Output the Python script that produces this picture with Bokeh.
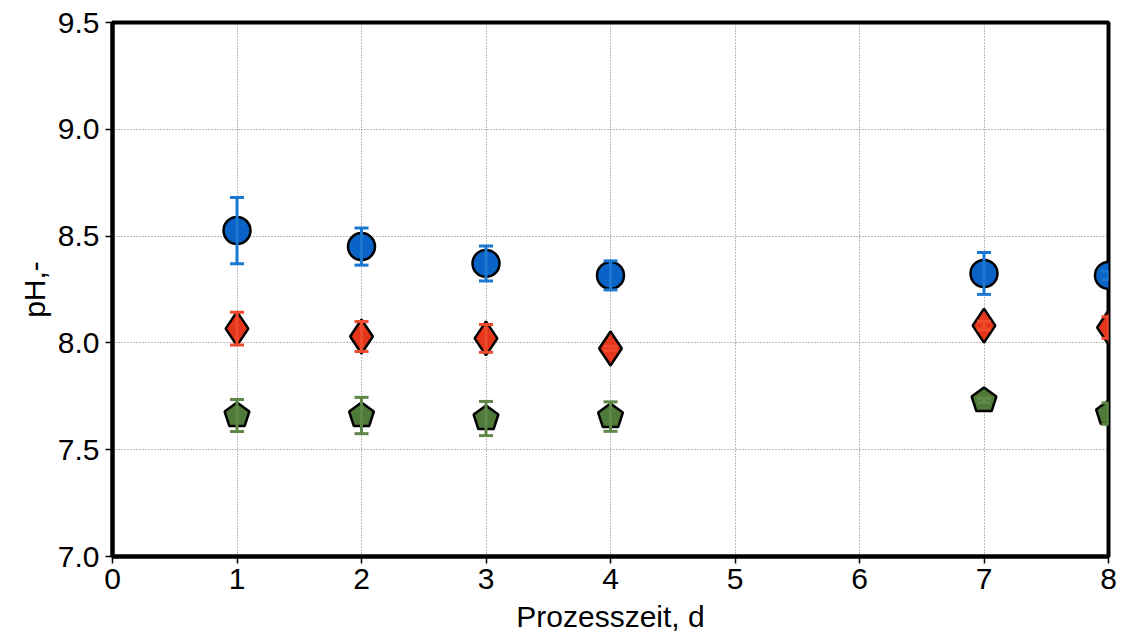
from bokeh.plotting import figure
from bokeh.models import Whisker, ColumnDataSource, FixedTicker, Range1d
from bokeh.embed import file_html
from bokeh.resources import INLINE

days = [1, 2, 3, 4, 7, 8]
ph_blue = [8.526, 8.451, 8.372, 8.316, 8.325, 8.316]
err_blue = [0.155, 0.087, 0.082, 0.068, 0.098, 0.02]
ph_red = [8.067, 8.030, 8.021, 7.974, 8.081, 8.072]
err_red = [0.077, 0.070, 0.065, 0.01, 0.02, 0.05]
ph_green = [7.660, 7.660, 7.646, 7.655, 7.730, 7.669]
err_green = [0.075, 0.085, 0.080, 0.069, 0.01, 0.05]

x_ticks = [0, 1, 2, 3, 4, 5, 6, 7, 8]
y_ticks = [7.0, 7.5, 8.0, 8.5, 9.0, 9.5]

FONT = "Liberation Sans"

p = figure(width=1122, height=642, output_backend="svg", toolbar_location=None,
           x_range=Range1d(0, 8), y_range=Range1d(7.0, 9.5),
           min_border_left=112, min_border_right=14, min_border_top=22, min_border_bottom=86)

p.outline_line_color = "black"
p.outline_line_width = 4

for ax in (p.xaxis[0], p.yaxis[0]):
    ax.axis_line_width = 4
    ax.axis_line_color = "black"
    ax.major_tick_out = 7
    ax.major_tick_in = 0
    ax.major_tick_line_width = 1.5
    ax.minor_tick_line_color = None
    ax.major_label_text_font = FONT
    ax.major_label_text_font_size = "30px"
    ax.major_label_text_color = "black"
    ax.axis_label_text_font = FONT
    ax.axis_label_text_font_size = "30px"
    ax.axis_label_text_font_style = "normal"
    ax.axis_label_text_color = "black"

p.xaxis.ticker = FixedTicker(ticks=x_ticks)
p.yaxis.ticker = FixedTicker(ticks=y_ticks)
p.yaxis.major_label_overrides = {t: f"{t:.1f}" for t in y_ticks}
p.xaxis.major_label_standoff = 5
p.yaxis.major_label_standoff = 6
p.xaxis.axis_label = "Prozesszeit, d"
p.yaxis.axis_label = "pH,-"
p.xaxis.axis_label_standoff = 8
p.yaxis.axis_label_standoff = 4

for g in (p.xgrid[0], p.ygrid[0]):
    g.grid_line_color = "#777777"
    g.grid_line_dash = "1 2"
    g.grid_line_width = 1

series = [
    (ph_blue, err_blue, "#0A63C6", "#1B78D0", "circle"),
    (ph_red, err_red, "#E5361B", "#EE4A2E", "diamond"),
    (ph_green, err_green, "#4F7A3A", "#5E8748", "pentagon"),
]

for vals, errs, fill, ecol, kind in series:
    src = ColumnDataSource(dict(
        x=days, y=vals,
        upper=[v + e for v, e in zip(vals, errs)],
        lower=[v - e for v, e in zip(vals, errs)],
    ))
    w = Whisker(base="x", upper="upper", lower="lower", source=src,
                line_color=ecol, line_width=3)
    w.upper_head.line_color = ecol
    w.lower_head.line_color = ecol
    w.upper_head.line_width = 3
    w.lower_head.line_width = 3
    w.upper_head.size = 14
    w.lower_head.size = 14
    w.level = "glyph"
    p.add_layout(w)
    if kind == "circle":
        p.scatter("x", "y", source=src, marker="circle", size=27,
                  fill_color=fill, line_color="black", line_width=2.5)
    elif kind == "diamond":
        p.scatter("x", "y", source=src, marker="diamond", size=34,
                  fill_color=fill, line_color="black", line_width=2.5)
    else:
        p.ngon("x", "y", source=src, radius=13, radius_units="screen", n=5,
               fill_color=fill, line_color="black", line_width=2.5)

open("out.html", "w").write(file_html(p, INLINE))
